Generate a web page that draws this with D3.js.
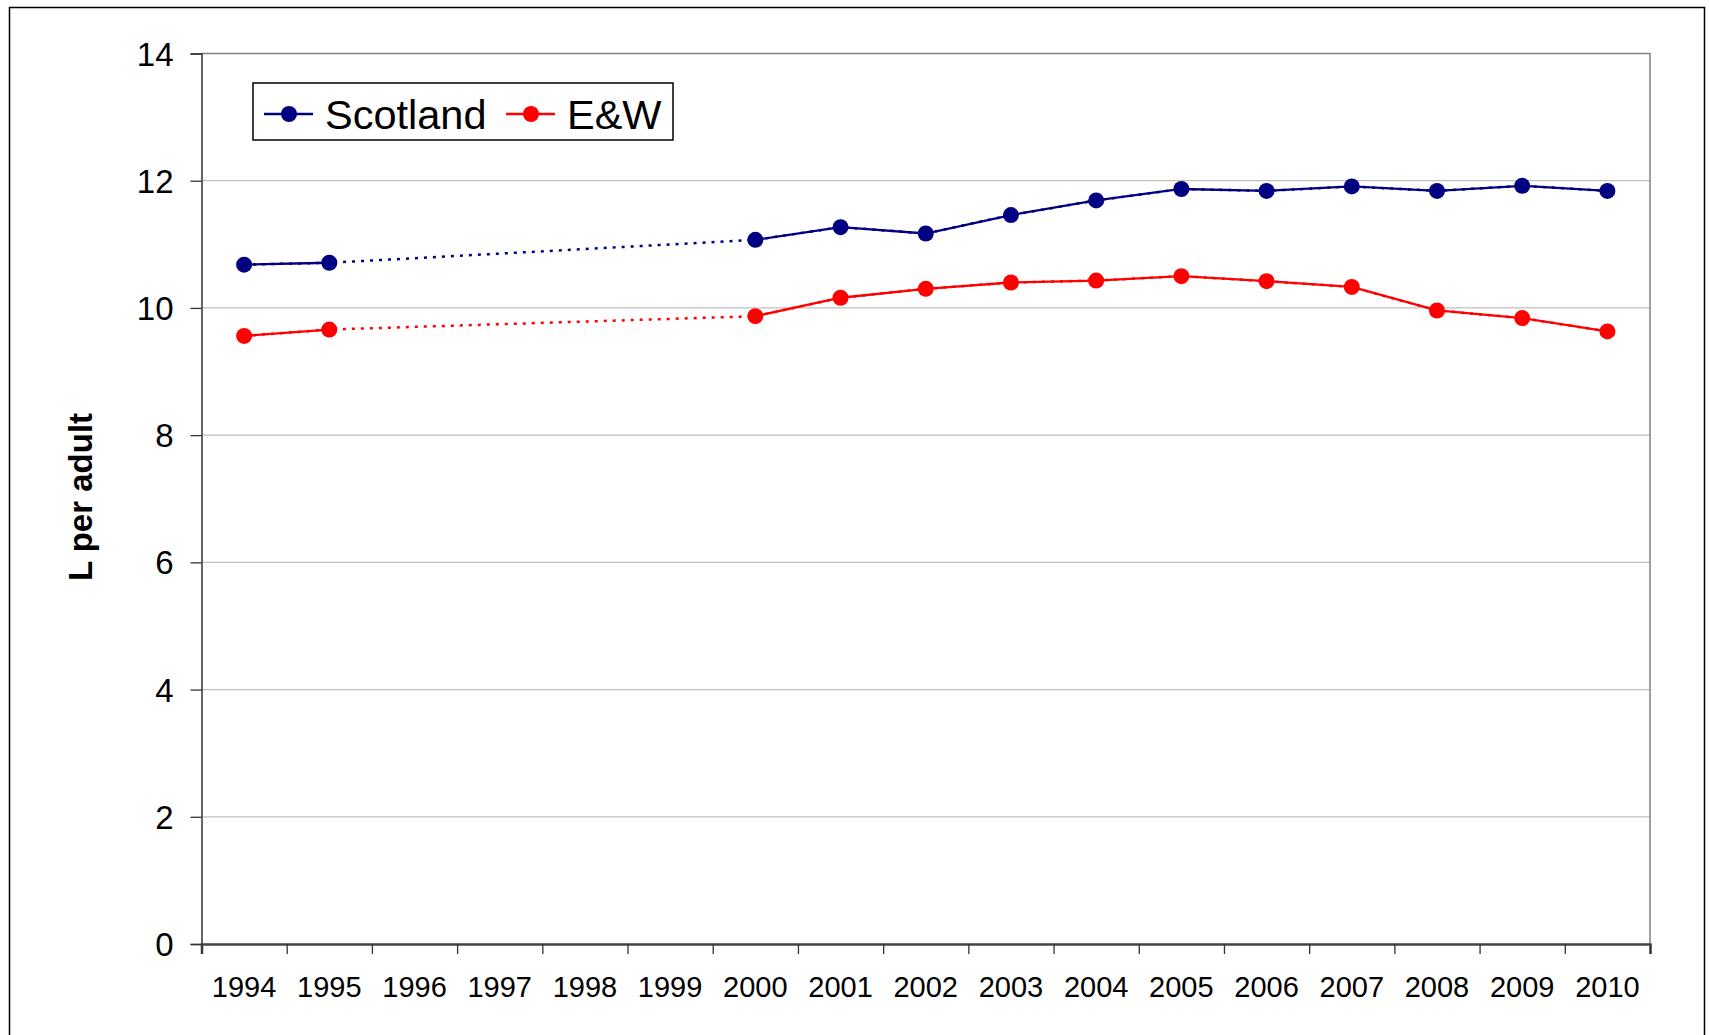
<!DOCTYPE html>
<html><head><meta charset="utf-8">
<script src="https://cdn.jsdelivr.net/npm/d3@7"></script>
<style>body{margin:0;background:#fff}svg{display:block}text{font-family:"Liberation Sans",Arial,sans-serif}</style>
</head><body><svg id="c" width="1709" height="1035"></svg>
<script>
const years = [1994,1995,1996,1997,1998,1999,2000,2001,2002,2003,2004,2005,2006,2007,2008,2009,2010];
const scotland = [10.68,10.71,null,null,null,null,11.07,11.27,11.17,11.46,11.69,11.87,11.84,11.91,11.84,11.92,11.84];
const ew = [9.56,9.66,null,null,null,null,9.87,10.16,10.30,10.40,10.43,10.50,10.42,10.33,9.96,9.84,9.63];
const yTicks = [0,2,4,6,8,10,12,14];
const seriesNames = ["Scotland","E&W"];
const seriesColors = ["#000080","#FF0000"];
const yTitle = "L per adult";

const svg = d3.select("#c");
const L=201.5, R=1650, T=53.5, B=944;
// outer frame
svg.append("rect").attr("x",9.5).attr("y",7.5).attr("width",1695).attr("height",1040).attr("fill","none").attr("stroke","#000").attr("stroke-width",1.5);

const x = d3.scaleBand().domain(years).range([L,R]).padding(0);
const xb = d3.scaleLinear().domain([years[0]-0.5, years[years.length-1]+0.5]).range([L,R]);
const y = d3.scaleLinear().domain([0,14]).range([B,T]);
const cx = d => x(d) + x.bandwidth()/2;

// gridlines
svg.append("g").selectAll("line").data(yTicks.filter(t=>t>0&&t<14)).join("line")
  .attr("x1",L).attr("x2",R).attr("y1",d=>y(d)).attr("y2",d=>y(d)).attr("stroke","#c0c0c0").attr("stroke-width",1.2);
// top/right border
svg.append("path").attr("d",`M${L},${T}H${R}V${B}`).attr("fill","none").attr("stroke","#808080").attr("stroke-width",1.5);

// y axis
const ya = svg.append("g").attr("transform",`translate(${L},0)`).call(d3.axisLeft(y).tickValues(yTicks).tickSize(11).tickPadding(17));
ya.select(".domain").attr("stroke","#333").attr("stroke-width",1.5);
ya.selectAll(".tick line").attr("stroke","#333").attr("stroke-width",1.3);
ya.selectAll(".tick text").attr("font-size",33).attr("fill","#000").attr("dy","0.35em");

// x axis
const bounds = d3.range(years[0]-0.5, years[years.length-1]+1, 1);
const xa = svg.append("g").attr("transform",`translate(0,${B})`).call(d3.axisBottom(xb).tickValues(bounds).tickSize(10).tickFormat(""));
xa.select(".domain").attr("stroke","#444").attr("stroke-width",2.5);
xa.selectAll(".tick line").attr("stroke","#333").attr("stroke-width",1.3);
svg.append("g").selectAll("text").data(years).join("text")
  .attr("x",d=>cx(d)).attr("y",987).attr("dy","0.35em").attr("text-anchor","middle")
  .attr("font-size",29).attr("fill","#000").text(d=>d);

// y title
svg.append("text").attr("transform","translate(80,497) rotate(-90)").attr("text-anchor","middle").attr("dy","0.35em")
  .attr("font-size",33).attr("font-weight","bold").text(yTitle);

// series
[scotland, ew].forEach((vals,i)=>{
  const pts = years.map((yr,j)=>({yr, v:vals[j]}));
  const col = seriesColors[i];
  const line = d3.line().defined(d=>d.v!=null).x(d=>cx(d.yr)).y(d=>y(d.v));
  const valid = pts.filter(d=>d.v!=null);
  svg.append("path").datum(valid).attr("d",d3.line().x(d=>cx(d.yr)).y(d=>y(d.v)))
    .attr("fill","none").attr("stroke",col).attr("stroke-width",2.5).attr("stroke-dasharray","3,6");
  svg.append("path").datum(pts).attr("d",line).attr("fill","none").attr("stroke",col).attr("stroke-width",2.3);
  svg.append("g").selectAll("circle").data(valid).join("circle")
    .attr("cx",d=>cx(d.yr)).attr("cy",d=>y(d.v)).attr("r",8).attr("fill",col);
});

// legend
const lg = svg.append("g");
lg.append("rect").attr("x",253).attr("y",83).attr("width",420).attr("height",57).attr("fill","#fff").attr("stroke","#000").attr("stroke-width",1.5);
const lx = [[264,313,289,325],[506,555,531,567]];
seriesNames.forEach((n,i)=>{
  const [a,b,c,t] = lx[i];
  lg.append("line").attr("x1",a).attr("x2",b).attr("y1",114).attr("y2",114).attr("stroke",seriesColors[i]).attr("stroke-width",2.3);
  lg.append("circle").attr("cx",c).attr("cy",114).attr("r",8).attr("fill",seriesColors[i]);
  lg.append("text").attr("x",t).attr("y",129).attr("font-size",41.5).text(n);
});
</script></body></html>
